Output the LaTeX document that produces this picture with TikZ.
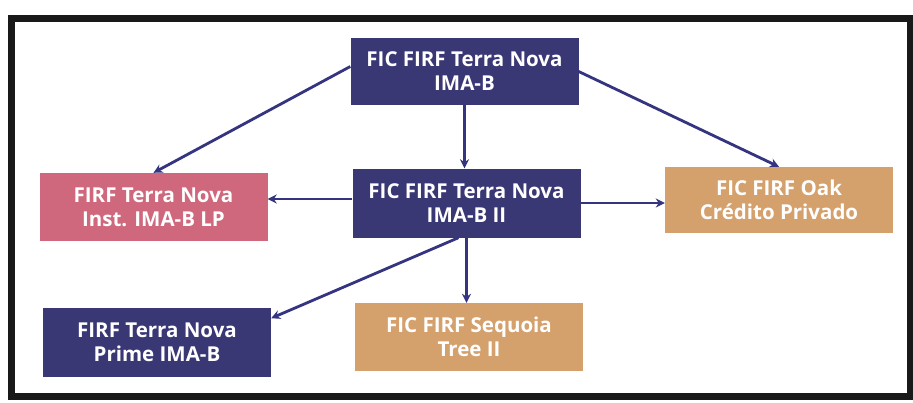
\documentclass[tikz,border=0pt]{standalone}
\usepackage{fontspec}
\setmainfont{Open Sans}
\usetikzlibrary{arrows.meta}
\definecolor{navy}{RGB}{58,55,117}
\definecolor{pinkbox}{RGB}{207,104,124}
\definecolor{tanbox}{RGB}{212,160,108}
\definecolor{arrowc}{RGB}{52,52,128}
\definecolor{framec}{RGB}{25,25,25}
\tikzset{
  fund/.style={rectangle, minimum width=228pt, minimum height=68pt, inner sep=0pt,
    text=white, font=\bfseries\fontsize{20.5}{24}\selectfont, align=center},
  navyfund/.style={fund, fill=navy},
  pinkfund/.style={fund, fill=pinkbox},
  tanfund/.style={fund, fill=tanbox},
  link/.style={draw=arrowc, line width=2.8pt, -{Stealth[length=9pt,width=9pt]}}
}
\begin{document}
\begin{tikzpicture}[x=1pt,y=-1pt]
\useasboundingbox (0,0) rectangle (913,402);
\fill[white] (0,0) rectangle (913,402);
\draw[framec, line width=7pt] (11,18) rectangle (910,396);
\node[navyfund, minimum height=67pt] (top) at (464.5,71.5) {FIC FIRF Terra Nova\\IMA-B};
\node[navyfund, minimum height=69pt] (mid) at (466.5,203) {FIC FIRF Terra Nova\\IMA-B II};
\node[pinkfund] (pink) at (153.5,207) {FIRF Terra Nova\\Inst. IMA-B LP};
\node[navyfund, minimum height=69pt] (prime) at (157,342.5) {FIRF Terra Nova\\Prime IMA-B};
\node[tanfund, minimum height=66pt] (oak) at (779,200) {FIC FIRF Oak\\Crédito Privado};
\node[tanfund] (seq) at (469,337) {FIC FIRF Sequoia\\Tree II};
\draw[link] ([yshift=5pt]top.west) -- (pink.north);
\draw[link] (top.east) -- (oak.north);
\draw[link] (top.south) -- (top.south |- mid.north);
\draw[link] ([yshift=4pt]mid.west) -- ([yshift=4pt]mid.west -| pink.east);
\draw[link] (mid.east) -- (mid.east -| oak.west);
\draw[link] (mid.south) -- (mid.south |- seq.north);
\draw[link] ([xshift=-8pt]mid.south) -- (prime.12);
\end{tikzpicture}
\end{document}
